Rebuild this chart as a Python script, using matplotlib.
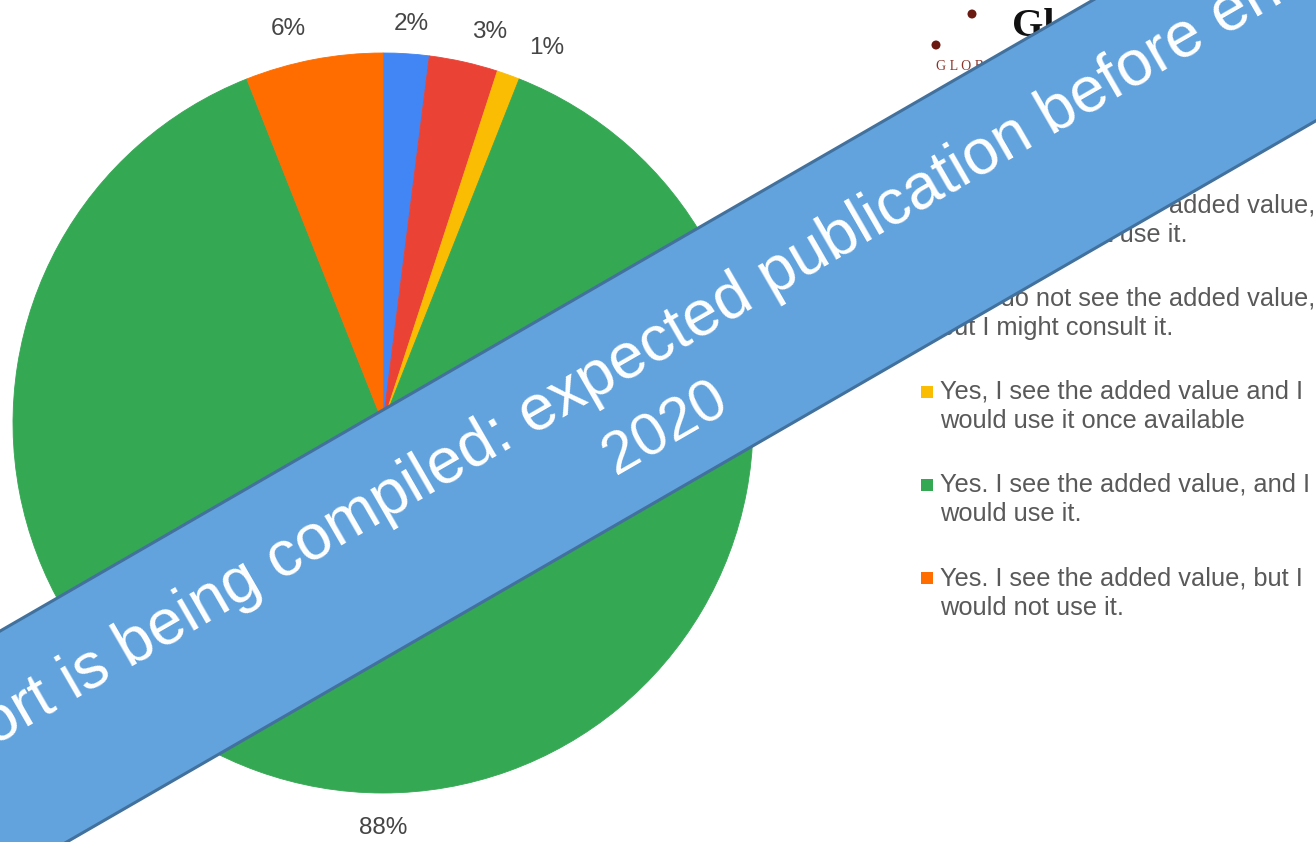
import matplotlib
matplotlib.use("Agg")
import numpy as np
import matplotlib.pyplot as plt
from matplotlib.patches import Polygon, Rectangle, Circle
from matplotlib.transforms import Affine2D

# ---- survey answers -------------------------------------------------------
categories = [
    "No, I do not see the added value,\nand I would not use it.",
    "No, I do not see the added value,\nbut I might consult it.",
    "Yes, I see the added value and I\nwould use it once available",
    "Yes. I see the added value, and I\nwould use it.",
    "Yes. I see the added value, but I\nwould not use it.",
]
shares = [2, 3, 1, 88, 6]
colors = ["#4285F4", "#EA4335", "#FBBC04", "#34A853", "#FF6D01"]
banner_lines = ["Report is being compiled: expected publication before end of",
                "2020"]

# ---- canvas ---------------------------------------------------------------
W, H, DPI = 1316, 842, 100
plt.rcParams["font.family"] = ["Liberation Sans", "DejaVu Sans"]
fig = plt.figure(figsize=(W / DPI, H / DPI), dpi=DPI)
fig.patch.set_facecolor("white")

# pixel coordinates with the origin in the top-left corner
px = Affine2D().scale(1, -1).translate(0, H)

# ---- pie ------------------------------------------------------------------
cx, cy, r = 383, 423, 370
ax = fig.add_axes([(cx - r) / W, (H - cy - r) / H, 2 * r / W, 2 * r / H])
wedges, _ = ax.pie(shares, colors=colors, startangle=90, counterclock=False,
                   radius=1.0, wedgeprops=dict(linewidth=0.6))
for w in wedges:
    w.set_edgecolor(w.get_facecolor())
ax.set_xlim(-1, 1)
ax.set_ylim(-1, 1)
ax.set_aspect("equal")
ax.axis("off")

# percentage labels outside the pie; small slices are fanned out a little
label_dist = [1.08, 1.095, 1.105, 1.095, 1.095]
label_spread = [0.4, 2.7, 3.8, 0.0, -2.7]   # degrees, clockwise
for w, val, dist, spread in zip(wedges, shares, label_dist, label_spread):
    mid = np.deg2rad((w.theta1 + w.theta2) / 2 - spread)
    ax.text(dist * np.cos(mid), dist * np.sin(mid), f"{val}%",
            ha="center", va="center", fontsize=17.5, color="#454545")

# ---- legend ---------------------------------------------------------------
leg_x, leg_y0, leg_step, line_step = 940, 205, 93.3, 29.5
for i, (lab, col) in enumerate(zip(categories, colors)):
    y = leg_y0 + i * leg_step
    fig.add_artist(Rectangle((921, y - 6), 12, 12, transform=px,
                             facecolor=col, edgecolor="none", zorder=2))
    for j, line in enumerate(lab.split("\n")):
        fig.text(leg_x, y + j * line_step, line, transform=px,
                 ha="left", va="center", fontsize=18.3, color="#595959",
                 zorder=2)

# ---- logo -----------------------------------------------------------------
for (dx, dy) in [(972, 14), (936, 45)]:
    fig.add_artist(Circle((dx, dy), 4.5, transform=px,
                          facecolor="#6b1a12", edgecolor="none", zorder=2))
fig.text(936, 67, "G L O B A L", transform=px, ha="left", va="center",
         fontsize=10, family="Liberation Serif", color="#8a3328", zorder=2)
fig.text(1012, 27, "Gl", transform=px, ha="left", va="center",
         fontsize=29, family="Liberation Serif", weight="bold",
         color="#111111", zorder=2)

# ---- notice banner across the chart ---------------------------------------
bc = np.array([644.0, 384.0])
ang = np.deg2rad(30)
u = np.array([np.cos(ang), -np.sin(ang)])   # along the banner
n = np.array([np.sin(ang), np.cos(ang)])    # across it, pointing down
half_len, half_w = 1100, 108
corners = [bc - half_len * u - half_w * n, bc + half_len * u - half_w * n,
           bc + half_len * u + half_w * n, bc - half_len * u + half_w * n]
fig.add_artist(Polygon(corners, closed=True, transform=px,
                       facecolor="#62A3DE", edgecolor="#41719C",
                       linewidth=2.2, zorder=10))

# two centred lines, baselines stacked across the banner
line1_base = np.array([635.0, 376.0])
line_gap = 76.0
for k, (txt, size) in enumerate(zip(banner_lines, [46, 43])):
    bx, by = line1_base + k * line_gap * n
    fig.text(bx, by, txt, transform=px, rotation=30, rotation_mode="anchor",
             ha="center", va="baseline", fontsize=size, color="white",
             zorder=11)

fig.savefig("out.png", dpi=DPI)
